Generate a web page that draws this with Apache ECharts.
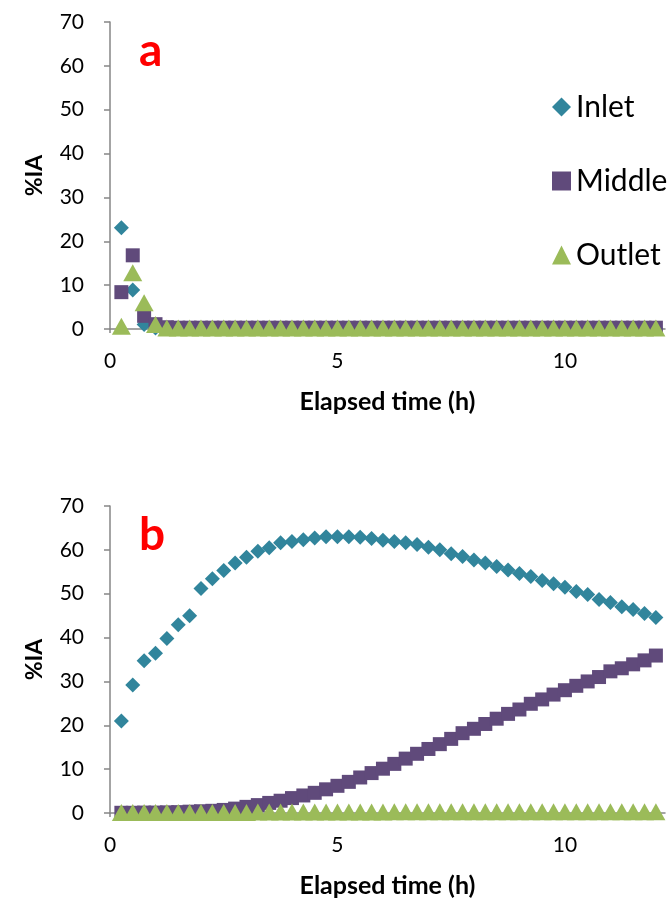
<!DOCTYPE html>
<html>
<head>
<meta charset="utf-8">
<script src="https://cdn.jsdelivr.net/npm/echarts@6/dist/echarts.min.js"></script>
<style>
    html, body { margin: 0; padding: 0; background: #fff; }
    #chart { width: 671px; height: 901px; }
</style>
</head>
<body>
<div id="chart"></div>
<script>
// elapsed time (h), same for every series
var times = [0.25, 0.5, 0.75, 1, 1.25, 1.5, 1.75, 2, 2.25, 2.5, 2.75, 3,
    3.25, 3.5, 3.75, 4, 4.25, 4.5, 4.75, 5, 5.25, 5.5, 5.75, 6,
    6.25, 6.5, 6.75, 7, 7.25, 7.5, 7.75, 8, 8.25, 8.5, 8.75, 9,
    9.25, 9.5, 9.75, 10, 10.25, 10.5, 10.75, 11, 11.25, 11.5, 11.75, 12];

var seriesNames = ['Inlet', 'Middle', 'Outlet'];
var xTicks = [0, 5, 10];
var yTicks = [0, 10, 20, 30, 40, 50, 60, 70];
var panelLabels = ['a', 'b'];

// panel a
var inletA = [23.1, 8.9, 1.0, 0.2, 0.1, 0.1, 0.1, 0.1, 0.1, 0.1, 0.1, 0.1,
    0.1, 0.1, 0.1, 0.1, 0.1, 0.1, 0.1, 0.1, 0.1, 0.1, 0.1, 0.1,
    0.1, 0.1, 0.1, 0.1, 0.1, 0.1, 0.1, 0.1, 0.1, 0.1, 0.1, 0.1,
    0.1, 0.1, 0.1, 0.1, 0.1, 0.1, 0.1, 0.1, 0.1, 0.1, 0.1, 0.1];
var middleA = [8.4, 16.8, 3.0, 1.1, 0.4, 0.3, 0.3, 0.3, 0.3, 0.3, 0.3, 0.3,
    0.3, 0.3, 0.3, 0.3, 0.3, 0.3, 0.3, 0.3, 0.3, 0.3, 0.3, 0.3,
    0.3, 0.3, 0.3, 0.3, 0.3, 0.3, 0.3, 0.3, 0.3, 0.3, 0.3, 0.3,
    0.3, 0.3, 0.3, 0.3, 0.3, 0.3, 0.3, 0.3, 0.3, 0.3, 0.3, 0.3];
var outletA = [0.6, 12.8, 6.0, 1.0, 0.2, 0.2, 0.2, 0.2, 0.2, 0.2, 0.2, 0.2,
    0.2, 0.2, 0.2, 0.2, 0.2, 0.2, 0.2, 0.2, 0.2, 0.2, 0.2, 0.2,
    0.2, 0.2, 0.2, 0.2, 0.2, 0.2, 0.2, 0.2, 0.2, 0.2, 0.2, 0.2,
    0.2, 0.2, 0.2, 0.2, 0.2, 0.2, 0.2, 0.2, 0.2, 0.2, 0.2, 0.2];

// panel b
var inletB = [21.0, 29.2, 34.7, 36.4, 39.8, 42.9, 45.0, 51.2, 53.4, 55.3, 57.0, 58.3,
    59.7, 60.5, 61.6, 61.9, 62.3, 62.7, 63.0, 63.0, 63.0, 62.9, 62.6, 62.2,
    61.9, 61.6, 61.2, 60.6, 60.0, 59.1, 58.5, 57.7, 57.0, 56.2, 55.4, 54.6,
    53.9, 53.0, 52.3, 51.5, 50.5, 49.8, 48.7, 48.0, 47.0, 46.4, 45.5, 44.6];
var middleB = [0.05, 0.05, 0.1, 0.1, 0.15, 0.2, 0.3, 0.4, 0.5, 0.7, 1.0, 1.4,
    1.8, 2.3, 2.8, 3.4, 4.0, 4.6, 5.4, 6.2, 7.1, 8.1, 9.1, 10.1,
    11.2, 12.4, 13.5, 14.6, 15.7, 16.9, 18.2, 19.2, 20.3, 21.5, 22.6, 23.6,
    24.9, 25.9, 27.0, 28.0, 29.0, 30.0, 31.0, 32.3, 33.0, 33.9, 34.8, 35.9];
var outletB = [0.1, 0.1, 0.1, 0.1, 0.1, 0.1, 0.1, 0.1, 0.1, 0.1, 0.1, 0.1,
    0.2, 0.2, 0.2, 0.2, 0.2, 0.2, 0.2, 0.2, 0.2, 0.2, 0.2, 0.2,
    0.3, 0.3, 0.3, 0.3, 0.3, 0.3, 0.3, 0.3, 0.3, 0.3, 0.3, 0.3,
    0.3, 0.3, 0.3, 0.3, 0.3, 0.3, 0.3, 0.3, 0.3, 0.3, 0.3, 0.3];

var chartMgr = {

    font: 'Lato',
    colors: ['#31859C', '#604A7B', '#9BBB59'],
    symbols: ['diamond', 'rect', 'triangle'],
    symbolSizes: [[15, 15], [14, 14], [19, 17]],
    axisColor: '#868686',

    pairs: function (ys) {
        var out = [];
        for (var i = 0; i < times.length; i++) {
            out.push([times[i], ys[i]]);
        }
        return out;
    },

    xAxis: function (idx) {
        return {
            type: 'value',
            gridIndex: idx,
            min: 0,
            max: 12.2,
            name: 'Elapsed time (h)',
            nameLocation: 'middle',
            nameGap: 60,
            nameTextStyle: { fontFamily: this.font, fontWeight: 'bold', fontSize: 25, color: '#000' },
            axisLine: { lineStyle: { color: this.axisColor, width: 1.5 } },
            axisTick: { show: true, length: 4, customValues: xTicks, lineStyle: { color: this.axisColor, width: 1.5 } },
            axisLabel: { customValues: xTicks, margin: 22, fontFamily: this.font, fontSize: 21, color: '#000' },
            splitLine: { show: false }
        };
    },

    yAxis: function (idx) {
        return {
            type: 'value',
            gridIndex: idx,
            min: 0,
            max: 70,
            interval: 10,
            name: '%IA',
            nameLocation: 'middle',
            nameRotate: 90,
            nameGap: 64,
            nameTextStyle: { fontFamily: this.font, fontWeight: 'bold', fontSize: 23, color: '#000' },
            axisLine: { show: true, lineStyle: { color: this.axisColor, width: 1.5 } },
            axisTick: { show: true, length: 6, customValues: yTicks, lineStyle: { color: this.axisColor, width: 1.5 } },
            axisLabel: { customValues: yTicks, margin: 26, fontFamily: this.font, fontSize: 21, color: '#000' },
            splitLine: { show: false }
        };
    },

    series: function (idx, name, ys) {
        var k = seriesNames.indexOf(name);
        return {
            name: name,
            type: 'scatter',
            xAxisIndex: idx,
            yAxisIndex: idx,
            symbol: this.symbols[k],
            symbolSize: this.symbolSizes[k],
            itemStyle: { color: this.colors[k], opacity: 1 },
            data: this.pairs(ys)
        };
    },

    panelLabel: function (text, y) {
        return {
            type: 'text',
            left: 139,
            top: y,
            style: { text: text, font: 'bold 46px Lato', fill: '#ff0000' }
        };
    },

    init: function () {
        var myChart = echarts.init(document.getElementById('chart'));
        var option = {
            animation: false,
            grid: [
                { left: 110, top: 22, width: 555, height: 307 },
                { left: 110, top: 506, width: 555, height: 307 }
            ],
            xAxis: [this.xAxis(0), this.xAxis(1)],
            yAxis: [this.yAxis(0), this.yAxis(1)],
            legend: {
                orient: 'vertical',
                left: 547,
                top: 87,
                itemWidth: 19,
                itemHeight: 19,
                itemGap: 44,
                data: seriesNames,
                textStyle: { fontFamily: this.font, fontSize: 30, color: '#000', lineHeight: 30 }
            },
            graphic: [
                this.panelLabel(panelLabels[0], 28),
                this.panelLabel(panelLabels[1], 512)
            ],
            series: [
                this.series(0, 'Inlet', inletA),
                this.series(0, 'Middle', middleA),
                this.series(0, 'Outlet', outletA),
                this.series(1, 'Inlet', inletB),
                this.series(1, 'Middle', middleB),
                this.series(1, 'Outlet', outletB)
            ]
        };
        myChart.setOption(option);
    }
};

chartMgr.init();
</script>
</body>
</html>
